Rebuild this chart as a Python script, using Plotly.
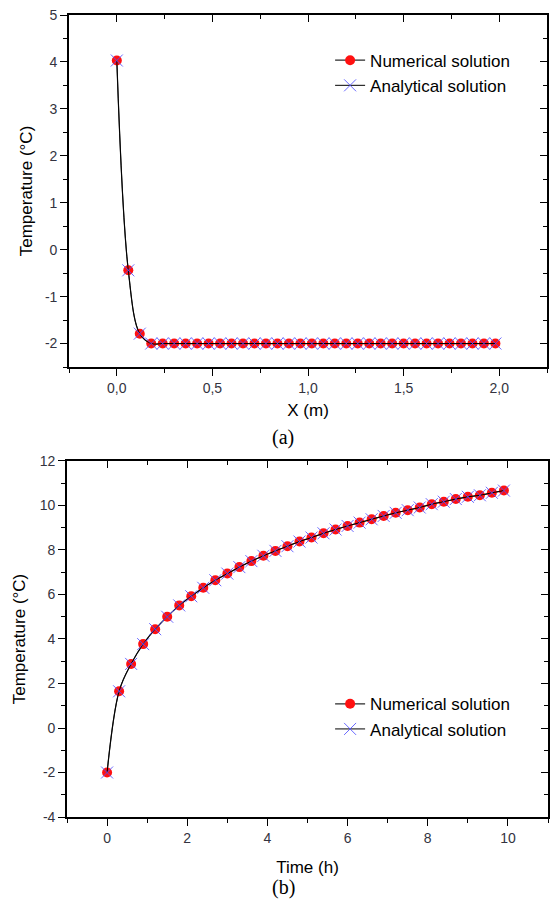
import plotly.graph_objects as go

# (a) temperature profile along X
x_a = [0.00, 0.06, 0.12, 0.18, 0.24, 0.30, 0.36, 0.42, 0.48, 0.54, 0.60, 0.66,
       0.72, 0.78, 0.84, 0.90, 0.96, 1.02, 1.08, 1.14, 1.20, 1.26, 1.32, 1.38,
       1.44, 1.50, 1.56, 1.62, 1.68, 1.74, 1.80, 1.86, 1.92, 1.98]
num_a = [4.03, -0.44, -1.79, -2.00, -2.00, -2.00, -2.00, -2.00, -2.00, -2.00,
         -2.00, -2.00, -2.00, -2.00, -2.00, -2.00, -2.00, -2.00, -2.00, -2.00,
         -2.00, -2.00, -2.00, -2.00, -2.00, -2.00, -2.00, -2.00, -2.00, -2.00,
         -2.00, -2.00, -2.00, -2.00]
ana_a = [4.03, -0.44, -1.79, -2.00, -2.00, -2.00, -2.00, -2.00, -2.00, -2.00,
         -2.00, -2.00, -2.00, -2.00, -2.00, -2.00, -2.00, -2.00, -2.00, -2.00,
         -2.00, -2.00, -2.00, -2.00, -2.00, -2.00, -2.00, -2.00, -2.00, -2.00,
         -2.00, -2.00, -2.00, -2.00]

# (b) temperature history
t_b = [0.0, 0.3, 0.6, 0.9, 1.2, 1.5, 1.8, 2.1, 2.4, 2.7, 3.0, 3.3, 3.6, 3.9,
       4.2, 4.5, 4.8, 5.1, 5.4, 5.7, 6.0, 6.3, 6.6, 6.9, 7.2, 7.5, 7.8, 8.1,
       8.4, 8.7, 9.0, 9.3, 9.6, 9.9]
num_b = [-2.00, 1.65, 2.88, 3.77, 4.44, 5.00, 5.51, 5.92, 6.30, 6.64, 6.94,
         7.23, 7.50, 7.74, 7.96, 8.17, 8.38, 8.56, 8.75, 8.92, 9.08, 9.23,
         9.38, 9.53, 9.67, 9.79, 9.91, 10.06, 10.17, 10.29, 10.39, 10.46,
         10.57, 10.67]
ana_b = [-2.00, 1.65, 2.88, 3.77, 4.44, 5.00, 5.51, 5.92, 6.30, 6.64, 6.94,
         7.23, 7.50, 7.74, 7.96, 8.17, 8.38, 8.56, 8.75, 8.92, 9.08, 9.23,
         9.38, 9.53, 9.67, 9.79, 9.91, 10.06, 10.17, 10.29, 10.39, 10.46,
         10.57, 10.67]

# tick labels
xa_vals = [0.0, 0.5, 1.0, 1.5, 2.0]
xa_text = ["0,0", "0,5", "1,0", "1,5", "2,0"]
ya_vals = [-2, -1, 0, 1, 2, 3, 4, 5]
ya_text = ["-2", "-1", "0", "1", "2", "3", "4", "5"]
xb_vals = [0, 2, 4, 6, 8, 10]
xb_text = ["0", "2", "4", "6", "8", "10"]
yb_vals = [-4, -2, 0, 2, 4, 6, 8, 10, 12]
yb_text = ["-4", "-2", "0", "2", "4", "6", "8", "10", "12"]

FONT = "Liberation Sans, Arial, sans-serif"
TICKCOL = "#333340"
RED = "#ff1010"
BLUE = "rgba(80,80,255,0.85)"

fig = go.Figure()


def add_pair(x, yn, ya, xref, yref, legend):
    fig.add_trace(go.Scatter(
        x=x, y=yn, mode="lines+markers", name="Numerical solution",
        xaxis=xref, yaxis=yref, legend=legend,
        line=dict(color="#2a2a2a", width=1.2, shape="spline", smoothing=1),
        marker=dict(symbol="circle", size=10, color=RED)))
    fig.add_trace(go.Scatter(
        x=x, y=ya, mode="lines+markers", name="Analytical solution",
        xaxis=xref, yaxis=yref, legend=legend,
        line=dict(color="black", width=1, shape="spline", smoothing=1),
        marker=dict(symbol="x-thin", size=12, color=BLUE,
                    line=dict(color=BLUE, width=1))))


add_pair(x_a, num_a, ana_a, "x", "y", "legend")
add_pair(t_b, num_b, ana_b, "x2", "y2", "legend2")

# empty traces so the mirrored frame axes are drawn
fig.add_trace(go.Scatter(x=[], y=[], xaxis="x3", yaxis="y3", showlegend=False))
fig.add_trace(go.Scatter(x=[], y=[], xaxis="x4", yaxis="y4", showlegend=False))

axis_common = dict(showline=True, linecolor="black", linewidth=1.6,
                   showgrid=False, zeroline=False, ticklen=7, tickwidth=1.4,
                   tickcolor="black", tickmode="array",
                   tickfont=dict(family=FONT, size=14, color=TICKCOL))
title_font = dict(family=FONT, size=17, color="black")

xr_a = [-0.25, 2.25]
yr_a = [-2.5, 5]
xr_b = [-1, 11]
yr_b = [-4, 12]
dom_xa = [0.0042, 0.998]
dom_xb = [0.0, 1.0]
dom_ya = [0.5611, 1.0]
dom_yb = [0.0, 0.4439]


def minor(dt, side):
    return dict(ticks=side, tick0=0, dtick=dt, ticklen=4,
                tickwidth=1.2, tickcolor="black")


fig.update_layout(
    width=551, height=906,
    margin=dict(l=67, r=3, t=15, b=89),
    paper_bgcolor="white", plot_bgcolor="white",
    xaxis=dict(**axis_common, domain=dom_xa, range=xr_a, anchor="y",
               tickvals=xa_vals, ticktext=xa_text, ticks="outside",
               minor=minor(0.25, "outside"),
               title=dict(text="X (m)", font=title_font, standoff=10)),
    yaxis=dict(**axis_common, domain=dom_ya, range=yr_a, anchor="x",
               tickvals=ya_vals, ticktext=ya_text, ticks="outside",
               minor=minor(0.5, "outside"),
               title=dict(text="Temperature (°C)", font=title_font, standoff=8)),
    xaxis3=dict(**axis_common, overlaying="x", side="top", anchor="y",
                range=xr_a, tickvals=xa_vals, ticks="inside",
                showticklabels=False, minor=minor(0.25, "inside")),
    yaxis3=dict(**axis_common, overlaying="y", side="right", anchor="x3",
                range=yr_a, tickvals=ya_vals, ticks="inside",
                showticklabels=False, minor=minor(0.5, "inside")),
    xaxis2=dict(**axis_common, domain=dom_xb, range=xr_b, anchor="y2",
                tickvals=xb_vals, ticktext=xb_text, ticks="outside",
                minor=minor(1, "outside"),
                title=dict(text="Time (h)", font=title_font, standoff=17)),
    yaxis2=dict(**axis_common, domain=dom_yb, range=yr_b, anchor="x2",
                tickvals=yb_vals, ticktext=yb_text, ticks="outside",
                minor=minor(1, "outside"),
                title=dict(text="Temperature (°C)", font=title_font, standoff=10)),
    xaxis4=dict(**axis_common, overlaying="x2", side="top", anchor="y2",
                range=xr_b, tickvals=xb_vals, ticks="inside",
                showticklabels=False, minor=minor(1, "inside")),
    yaxis4=dict(**axis_common, overlaying="y2", side="right", anchor="x4",
                range=yr_b, tickvals=yb_vals, ticks="inside",
                showticklabels=False, minor=minor(1, "inside")),
    legend=dict(x=0.547, y=0.9655, xanchor="left", yanchor="top",
                bgcolor="rgba(0,0,0,0)", borderwidth=0,
                font=dict(family=FONT, size=17, color="black"),
                tracegroupgap=0, itemwidth=30),
    legend2=dict(x=0.547, y=0.163, xanchor="left", yanchor="top",
                 bgcolor="rgba(0,0,0,0)", borderwidth=0,
                 font=dict(family=FONT, size=17, color="black"),
                 tracegroupgap=0, itemwidth=30),
    annotations=[
        dict(text="(a)", x=0.449, y=0.4738, xref="paper", yref="paper",
             showarrow=False, xanchor="center", yanchor="middle",
             font=dict(family="Liberation Serif, Times New Roman, serif",
                       size=20, color="black")),
        dict(text="(b)", x=0.451, y=-0.0885, xref="paper", yref="paper",
             showarrow=False, xanchor="center", yanchor="middle",
             font=dict(family="Liberation Serif, Times New Roman, serif",
                       size=20, color="black")),
    ],
)

fig.write_html("out.html")
